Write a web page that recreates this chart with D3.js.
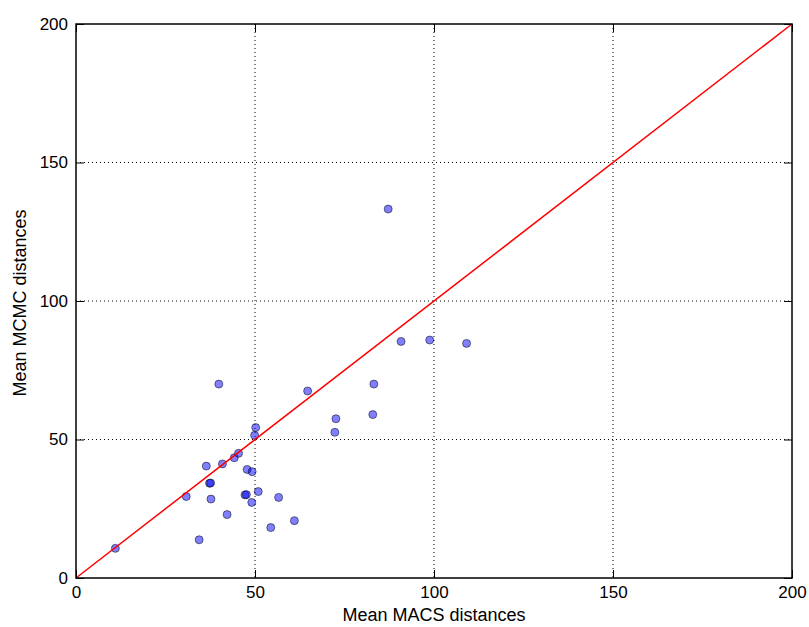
<!DOCTYPE html>
<html>
<head>
<meta charset="utf-8">
<script src="https://cdn.jsdelivr.net/npm/d3@7"></script>
<style>
body { margin: 0; background: #fff; }
text { font-family: "Liberation Sans", Arial, sans-serif; }
</style>
</head>
<body>
<svg id="chart" width="809" height="627"></svg>
<script>
const macs = [50.2, 49.9, 45.4, 44.2, 40.9, 36.4, 47.8, 49.2, 37.3, 37.6, 50.9, 47.2, 47.6, 30.8, 37.7, 56.6, 49.1, 42.2, 61.0, 54.4, 34.4, 11.0,
              90.8, 98.8, 109.1, 83.2, 64.7, 72.6, 82.9, 72.3, 87.2, 39.9];
const mcmc = [54.3, 51.5, 45.0, 43.4, 41.2, 40.4, 39.2, 38.4, 34.2, 34.3, 31.2, 30.0, 30.1, 29.4, 28.5, 29.1, 27.3, 22.9, 20.7, 18.2, 13.8, 10.7,
              85.4, 85.9, 84.7, 70.0, 67.5, 57.5, 59.0, 52.6, 133.2, 70.0];
const ticks = [0, 50, 100, 150, 200];
const identity = [0, 200];

const svg = d3.select("#chart");
const L = 76, R = 792, T = 24, B = 578;
const x = d3.scaleLinear().domain([0, 200]).range([L, R]);
const y = d3.scaleLinear().domain([0, 200]).range([B, T]);

// grid
const grid = svg.append("g");
grid.selectAll(".gx").data(ticks.slice(1, -1)).enter().append("line")
  .attr("x1", d => x(d)).attr("x2", d => x(d)).attr("y1", T).attr("y2", B)
  .attr("stroke", "#000").attr("stroke-width", 1).attr("stroke-dasharray", "1,3");
grid.selectAll(".gy").data(ticks.slice(1, -1)).enter().append("line")
  .attr("y1", d => y(d)).attr("y2", d => y(d)).attr("x1", L).attr("x2", R)
  .attr("stroke", "#000").attr("stroke-width", 1).attr("stroke-dasharray", "1,3");

// points
const pts = macs.map((v, i) => [v, mcmc[i]]);
svg.append("g").selectAll("circle").data(pts).enter().append("circle")
  .attr("cx", d => x(d[0])).attr("cy", d => y(d[1])).attr("r", 4)
  .attr("fill", "rgba(0,0,255,0.5)").attr("stroke", "rgba(0,0,0,0.5)").attr("stroke-width", 1);

// identity line
svg.append("line")
  .attr("x1", x(identity[0])).attr("y1", y(identity[0]))
  .attr("x2", x(identity[1])).attr("y2", y(identity[1]))
  .attr("stroke", "#ff0000").attr("stroke-width", 1.5);

// axes
const ax = d3.axisBottom(x).tickValues(ticks).tickSizeInner(-8).tickSizeOuter(0).tickPadding(8);
const ay = d3.axisLeft(y).tickValues(ticks).tickSizeInner(-8).tickSizeOuter(0).tickPadding(8);
const axt = d3.axisTop(x).tickValues(ticks).tickSizeInner(-8).tickSizeOuter(0).tickFormat("");
const ayr = d3.axisRight(y).tickValues(ticks).tickSizeInner(-8).tickSizeOuter(0).tickFormat("");

function style(g) {
  g.select(".domain").remove();
  g.selectAll(".tick line").attr("stroke", "#000").attr("stroke-width", 1);
  g.selectAll(".tick text").attr("fill", "#000").style("font-size", "17px");
}
svg.append("g").attr("transform", `translate(0,${B})`).call(ax).call(style);
svg.append("g").attr("transform", `translate(${L},0)`).call(ay).call(style);
svg.append("g").attr("transform", `translate(0,${T})`).call(axt).call(style);
svg.append("g").attr("transform", `translate(${R},0)`).call(ayr).call(style);

// frame
svg.append("rect").attr("x", L).attr("y", T).attr("width", R - L).attr("height", B - T)
  .attr("fill", "none").attr("stroke", "#000").attr("stroke-width", 1.5);

// labels
svg.append("text").attr("x", 434).attr("y", 621).attr("text-anchor", "middle")
  .style("font-size", "18px").text("Mean MACS distances");
svg.append("text").attr("transform", `translate(26,303) rotate(-90)`).attr("text-anchor", "middle")
  .style("font-size", "18px").text("Mean MCMC distances");
</script>
</body>
</html>
